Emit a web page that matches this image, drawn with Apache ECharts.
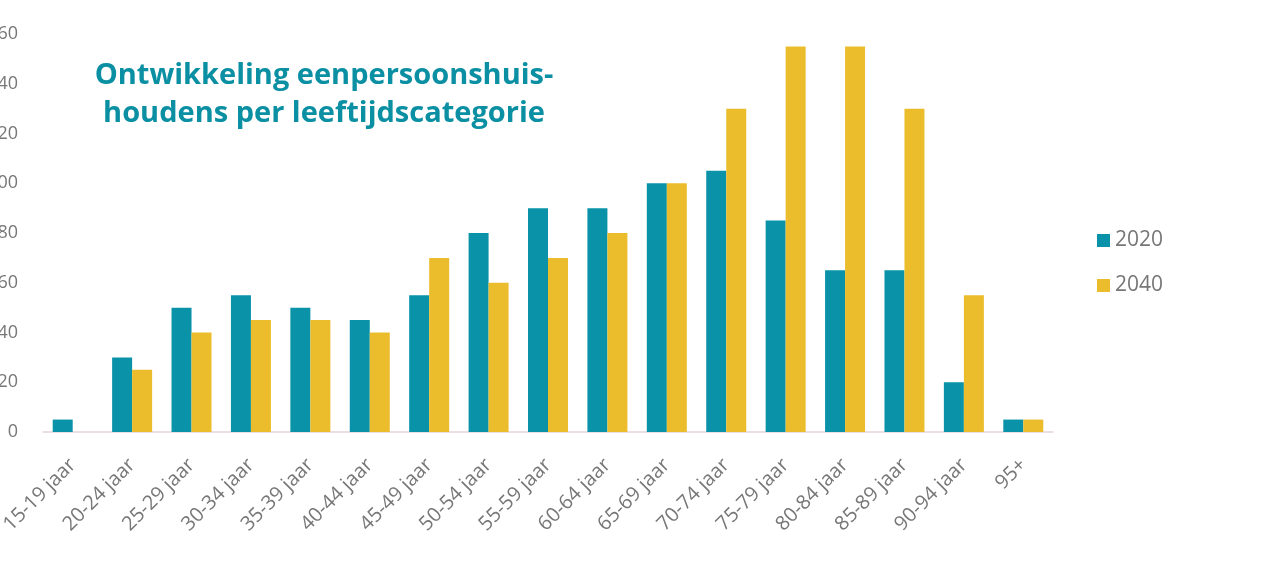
<!DOCTYPE html>
<html>
<head>
<meta charset="utf-8">
<script src="https://cdn.jsdelivr.net/npm/echarts@6/dist/echarts.min.js"></script>
<style>
  html, body { margin: 0; padding: 0; background: #fff; }
  #chart { width: 1273px; height: 561px; }
</style>
</head>
<body>
<div id="chart"></div>
<script>
// leeftijdscategorieën
var categories = ['15-19 jaar', '20-24 jaar', '25-29 jaar', '30-34 jaar', '35-39 jaar', '40-44 jaar',
  '45-49 jaar', '50-54 jaar', '55-59 jaar', '60-64 jaar', '65-69 jaar', '70-74 jaar',
  '75-79 jaar', '80-84 jaar', '85-89 jaar', '90-94 jaar', '95+'];
var values2020 = [5, 30, 50, 55, 50, 45, 55, 80, 90, 90, 100, 105, 85, 65, 65, 20, 5];
var values2040 = [0, 25, 40, 45, 45, 40, 70, 60, 70, 80, 100, 130, 155, 155, 130, 55, 5];
var yTicks = { min: 0, max: 160, interval: 20 };

var chart = echarts.init(document.getElementById('chart'));
chart.setOption({
    animation: false,
    color: ['#0a93a8', '#ebbd2c'],
    title: {
        text: 'Ontwikkeling eenpersoonshuis-\nhoudens per leeftijdscategorie',
        left: 319,
        top: 52,
        textAlign: 'center',
        textStyle: {
            color: '#0b8fa3',
            fontFamily: 'Open Sans',
            fontWeight: 'bold',
            fontSize: 29,
            lineHeight: 38
        }
    },
    legend: {
        orient: 'vertical',
        left: 1092,
        top: 225,
        itemWidth: 13,
        itemHeight: 13,
        itemGap: 24,
        icon: 'rect',
        textStyle: { color: '#777', fontSize: 21, fontFamily: 'Open Sans' },
        data: ['2020', '2040']
    },
    grid: {   // plotgebied, y-labels vallen links deels buiten beeld
        left: 43,
        right: 220,
        top: 34,
        bottom: 129,
        containLabel: false,
        outerBoundsMode: 'none'
    },
    xAxis: {
        type: 'category',
        data: categories,
        axisTick: { show: false },
        axisLine: { lineStyle: { color: '#e8d4d8', width: 1.5 } },
        axisLabel: {
            rotate: 45,
            color: '#777',
            fontSize: 20,
            fontFamily: 'Open Sans',
            margin: 30,
            interval: 0
        }
    },
    yAxis: {
        type: 'value',
        min: yTicks.min,
        max: yTicks.max,
        interval: yTicks.interval,
        axisLine: { show: false },
        axisTick: { show: false },
        splitLine: { show: false },
        axisLabel: { color: '#777', fontSize: 18, fontFamily: 'Open Sans', margin: 25 }
    },
    series: [
        {
            name: '2020',
            type: 'bar',
            barWidth: 20,
            barGap: '0%',
            data: values2020
        },
        {
            name: '2040',
            type: 'bar',
            barWidth: 20,
            barGap: '0%',
            data: values2040
        }
    ]
});
</script>
</body>
</html>
